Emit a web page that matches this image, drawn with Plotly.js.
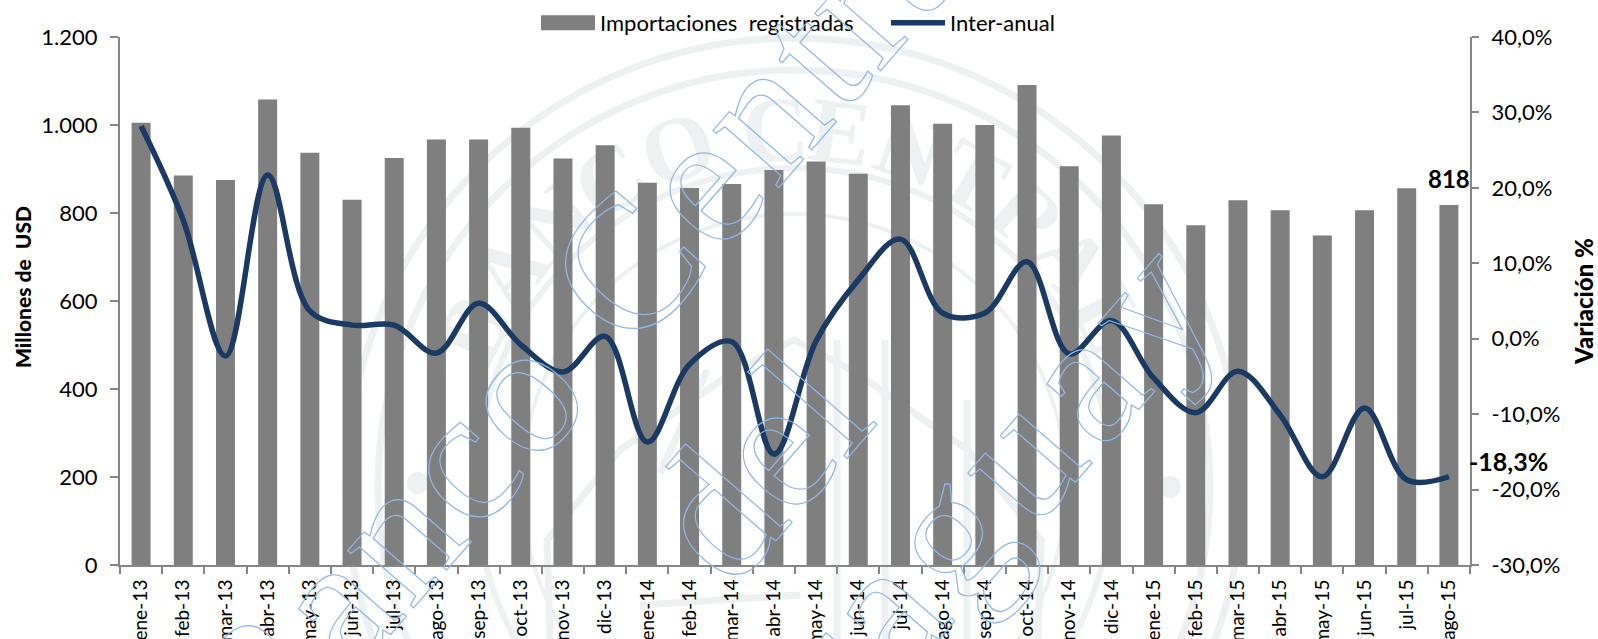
<!DOCTYPE html>
<html><head><meta charset="utf-8">
<script src="https://cdn.plot.ly/plotly-3.0.1.min.js"></script>
<style>
html,body{margin:0;padding:0;background:#fff;overflow:hidden}
#chart{width:1598px;height:639px}
</style></head><body><div id="chart"></div>
<script>
const W=1598,H=639,L=120,R=1470,T=37,B=565;
const months=['ene-13','feb-13','mar-13','abr-13','may-13','jun-13','jul-13','ago-13','sep-13','oct-13','nov-13','dic-13','ene-14','feb-14','mar-14','abr-14','may-14','jun-14','jul-14','ago-14','sep-14','oct-14','nov-14','dic-14','ene-15','feb-15','mar-15','abr-15','may-15','jun-15','jul-15','ago-15'];
const importaciones=[1005,885,875,1058,937,830,925,967,967,994,924,954,869,857,866,898,917,889,1045,1003,1000,1091,906,976,820,772,829,806,749,806,856,818];
const interanual=[28.2,15.7,-2.3,21.7,3.7,1.8,1.8,-1.9,4.7,-0.8,-4.4,0.3,-13.7,-3.4,-0.4,-15.3,-0.3,7.8,13.2,3.4,3.4,10.2,-2,2.4,-5.2,-9.8,-4.3,-10.1,-18.3,-9.2,-18.7,-18.3];
const leftTicks=[0,200,400,600,800,1000,1200];
const leftLabels=['0','200','400','600','800','1.000','1.200'];
const rightTicks=[-30,-20,-10,0,10,20,30,40];
const rightLabels=['-30,0%','-20,0%','-10,0%','0,0%','10,0%','20,0%','30,0%','40,0%'];
const sealRings=[[448,7],[416,7],[318,6],[272,4]];
const sealLetters=[['B',-64],['A',-53],['N',-42],['C',-31],['O',-19],['C',-3],['E',7.5],['N',19],['T',30],['R',41],['A',51],['L',62]];
const sealDots=[[418,483],[1170,487]];
const sealLines=[[[550,639],[547,540],[620,450],[733,372],[794,340],[855,372],[968,450],[1041,540],[1038,639]],[[837,340],[837,639]],[[885,340],[885,639]],[[967,400],[967,639]],[[640,605],[800,595]],[[660,473],[707,370]]];
const watermark=[['Banco Central',594,303,4],['del',756,466,-3],['Paraguay',925,558,10]];

const SEAL='#edf1f1',AX='#868686',NAVY='#1a3a63',LATO='Lato,sans-serif';
const px=x=>(x-L)/(R-L), py=y=>(B-y)/(B-T);
const CX=794,CY=486;
const shapes=[];
sealRings.forEach(([r,w])=>shapes.push({type:'circle',xref:'paper',yref:'paper',layer:'below',x0:px(CX-r),x1:px(CX+r),y0:py(CY+r),y1:py(CY-r),line:{color:SEAL,width:w},fillcolor:'rgba(0,0,0,0)'}));
sealDots.forEach(([x,y])=>shapes.push({type:'circle',xref:'paper',yref:'paper',layer:'below',x0:px(x-11),x1:px(x+11),y0:py(y+11),y1:py(y-11),line:{width:0},fillcolor:SEAL}));
sealLines.forEach(pts=>shapes.push({type:'path',xref:'paper',yref:'paper',layer:'below',line:{color:SEAL,width:7},path:pts.map((p,i)=>(i?'L':'M')+px(p[0])+','+py(p[1])).join(' ')}));
sealLetters.forEach(([c,a])=>{const t=a*Math.PI/180,r=367,x=CX+r*Math.sin(t),y=CY-r*Math.cos(t);
 shapes.push({type:'rect',xref:'paper',yref:'paper',layer:'below',x0:px(x-1),x1:px(x+1),y0:py(y+1),y1:py(y-1),line:{width:0},fillcolor:'rgba(0,0,0,0)',
  label:{text:'<b>'+c+'</b>',textangle:a,textposition:'middle center',font:{family:'Liberation Serif',size:92,color:SEAL}}});});

const annotations=[
 {x:'ago-15',y:818,xref:'x',yref:'y',text:'<b>818</b>',showarrow:false,xshift:0,yshift:27,font:{family:LATO,size:24,color:'#000'}},
 {x:'ago-15',y:-18.3,xref:'x',yref:'y2',text:'<b>-18,3%</b>',showarrow:false,xanchor:'left',xshift:18,yshift:16,font:{family:LATO,size:25,color:'#000'}},
 {xref:'paper',yref:'paper',x:px(22),y:py(287),text:'Millones de  USD',showarrow:false,textangle:-90,xanchor:'center',yanchor:'middle',font:{family:LATO,size:21,weight:900,color:'#000'}}
];
watermark.forEach(([t,x,y])=>annotations.push({xref:'paper',yref:'paper',x:px(x),y:py(y),text:t,showarrow:false,textangle:-49,xanchor:'center',yanchor:'middle',font:{family:'Liberation Serif',size:190,color:'#8fb8e8'}}));

const traces=[
 {type:'bar',name:'Importaciones  registradas',x:months,y:importaciones,marker:{color:'#7f7f7f'},yaxis:'y'},
 {type:'scatter',mode:'lines',name:'Inter-anual',x:months,y:interanual,yaxis:'y2',line:{color:NAVY,width:5.5,shape:'spline',smoothing:1}}
];
const layout={
 width:W,height:H,margin:{l:L,r:W-R,t:T,b:H-B,autoexpand:false},paper_bgcolor:'rgba(0,0,0,0)',plot_bgcolor:'rgba(0,0,0,0)',
 bargap:0.55,showlegend:true,shapes,annotations,
 legend:{orientation:'h',x:px(536),xanchor:'left',y:py(23),yanchor:'middle',itemwidth:54,entrywidth:281,entrywidthmode:'pixels',bgcolor:'rgba(0,0,0,0)',font:{family:LATO,size:22,color:'#000'},traceorder:'normal',itemclick:false},
 xaxis:{type:'category',range:[-0.5,31.5],showgrid:false,zeroline:false,showline:true,linecolor:AX,linewidth:2,ticks:'outside',tickson:'boundaries',ticklen:7,tickcolor:AX,tickwidth:2,tickangle:-90,ticklabelstandoff:5,tickfont:{family:LATO,size:19,color:'#000'},tickvals:months,ticktext:months.map(m=>m.replace('-','-\u200a'))},
 yaxis:{range:[0,1200],tickvals:leftTicks,ticktext:leftLabels,showgrid:false,zeroline:false,showline:true,linecolor:AX,linewidth:2,ticks:'outside',ticklen:8,tickcolor:AX,tickwidth:2,ticklabelstandoff:8,tickfont:{family:LATO,size:22,color:'#000'}},
 yaxis2:{range:[-30,40],overlaying:'y',side:'right',tickvals:rightTicks,ticktext:rightLabels,showgrid:false,zeroline:false,showline:true,linecolor:AX,linewidth:2,ticks:'outside',ticklen:7,tickcolor:AX,tickwidth:2,ticklabelstandoff:8,tickfont:{family:LATO,size:22,color:'#000'},title:{text:'Variación %',standoff:31,font:{family:LATO,size:24,weight:900,color:'#000'}}}
};
function finish(gd){
 gd.querySelectorAll('.annotation-text').forEach(t=>{ if(parseFloat(t.style.fontSize)>100){const w=watermark.find(w=>w[0]===t.textContent);t.style.setProperty('fill','none','important');t.style.setProperty('stroke','#8fb8e8');t.style.setProperty('stroke-width','1.2');t.style.setProperty('letter-spacing',(w?w[3]:0)+'px');}});
 gd.querySelectorAll('.legendpoints path').forEach(p=>{const d=p.getAttribute('d')||'';if(d.startsWith('M6,6')||p.classList.contains('legendbar'))p.setAttribute('d','M27,7.5H-27V-7.5H27Z');});
}
Plotly.newPlot('chart',traces,layout,{displayModeBar:false,responsive:false}).then(gd=>{
 finish(gd);
 gd.on('plotly_afterplot',()=>finish(gd));
 setTimeout(()=>finish(gd),0);setTimeout(()=>finish(gd),100);
});
</script></body></html>
